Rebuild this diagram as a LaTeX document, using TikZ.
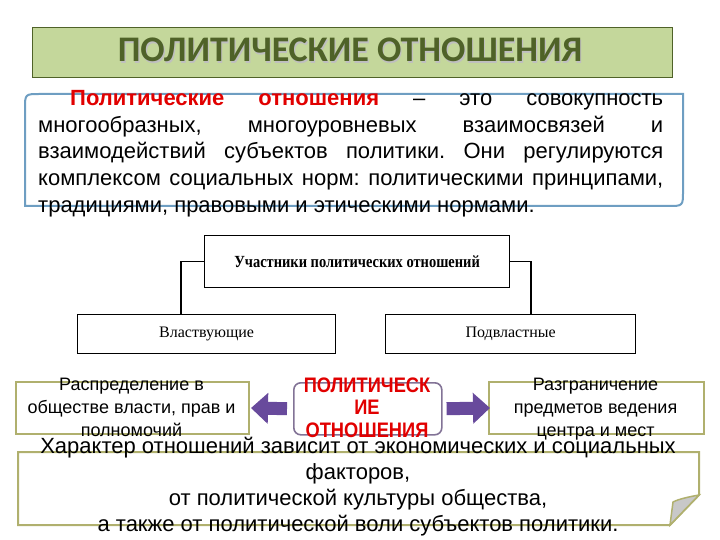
\documentclass[tikz,border=0pt]{standalone}
\usepackage{fontspec}
\setmainfont{Liberation Sans}
\newfontfamily\titlefont{Carlito}
\newfontfamily\serifz{Liberation Serif}
\newfontfamily\narrowb[FakeStretch=0.87]{Liberation Sans}
\usetikzlibrary{arrows.meta}
\frenchspacing
\definecolor{titlefill}{RGB}{196,215,155}
\definecolor{titledark}{RGB}{79,98,40}
\definecolor{defblue}{RGB}{110,158,194}
\definecolor{olivebox}{RGB}{176,176,110}
\definecolor{arrowpurple}{RGB}{104,74,156}
\definecolor{midborder}{RGB}{130,115,150}
\definecolor{redtext}{RGB}{225,0,0}
\definecolor{foldgray}{RGB}{200,200,200}
\tikzset{
  pbox/.style={draw=black, line width=1.2pt, inner sep=0pt, anchor=north west},
  obox/.style={draw=olivebox, line width=2pt, inner sep=0pt, anchor=north west},
  midbox/.style={draw=midborder, line width=1.6pt, rounded corners=7pt, inner sep=0pt, anchor=north west},
  defline/.style={anchor=base west, inner sep=0pt, font=\fontsize{22}{26}\selectfont},
  botline/.style={anchor=base, inner sep=0pt, font=\fontsize{22}{26}\selectfont},
  smallline/.style={anchor=base, inner sep=0pt, font=\fontsize{18}{21}\selectfont},
  midline/.style={anchor=base, inner sep=0pt, text=redtext, font=\narrowb\bfseries\fontsize{21}{24}\selectfont},
  bigarrow/.style={arrowpurple, line width=13pt, -{Triangle[length=17pt,width=30pt]}},
}
\begin{document}
\begin{tikzpicture}[x=1pt,y=-1pt]
\useasboundingbox (0,0) rectangle (720,540);
% title
\node[draw=titledark, fill=titlefill, line width=1.2pt, minimum width=640pt, minimum height=50pt, inner sep=0pt, anchor=north west] (title) at (32,27) {};
\node[anchor=base, inner sep=0pt, text=black!25, font=\titlefont\bfseries\fontsize{36}{40}\selectfont] (titleshadow) at (351.2,63.2) {ПОЛИТИЧЕСКИЕ ОТНОШЕНИЯ};
\node[anchor=base, inner sep=0pt, text=titledark, font=\titlefont\bfseries\fontsize{36}{40}\selectfont] (titletext) at (350,62) {ПОЛИТИЧЕСКИЕ ОТНОШЕНИЯ};
% definition box
\draw[defblue, line width=2pt] (25,206) -- (25,109) .. controls (25,94) .. (40,94) -- (683,94) -- (683,191) .. controls (683,206) .. (668,206) -- cycle;
\node[defline] (d1) at (70,106) {\makebox[593pt][s]{\textcolor{redtext}{\bfseries Политические} \textcolor{redtext}{\bfseries отношения} – это совокупность}};
\node[defline] (d2) at (38,133) {\makebox[625pt][s]{многообразных, многоуровневых взаимосвязей и}};
\node[defline] (d3) at (38,159) {\makebox[625pt][s]{взаимодействий субъектов политики. Они регулируются}};
\node[defline] (d4) at (38,186) {\makebox[625pt][s]{комплексом социальных норм: политическими принципами,}};
\node[defline] (d5) at (38,212) {традициями, правовыми и этическими нормами.};
% participants
\node[pbox, minimum width=305pt, minimum height=52pt] (uch) at (204,235) {};
\node[inner sep=0pt, font=\serifz\bfseries\fontsize{17}{19}\selectfont] (uchtext) at (uch.center) {\scalebox{0.85}[1]{Участники политических отношений}};
\node[pbox, minimum width=258pt, minimum height=39pt] (vl) at (77,314) {};
\node[inner sep=0pt, font=\serifz\fontsize{16}{18}\selectfont] (vltext) at (vl.center) {Властвующие};
\node[pbox, minimum width=250pt, minimum height=39pt] (pd) at (385,314) {};
\node[inner sep=0pt, font=\serifz\fontsize{16}{18}\selectfont] (pdtext) at (pd.center) {Подвластные};
\coordinate (lc) at (181,0);
\coordinate (rc) at (531,0);
\draw[line width=1.2pt] (uch.west) -| (vl.north -| lc);
\draw[line width=1.2pt] (uch.east) -| (pd.north -| rc);
% lower row
\node[obox, minimum width=233pt, minimum height=52pt] (raspr) at (15,381) {};
\node[smallline] (r1) at (131.5,390) {Распределение в};
\node[smallline] (r2) at (131.5,413) {обществе власти, прав и};
\node[smallline] (r3) at (131.5,436) {полномочий};
\node[midbox, minimum width=148pt, minimum height=52pt] (mid) at (293,382) {};
\node[midline] (m1) at (367,392) {ПОЛИТИЧЕСК};
\node[midline] (m2) at (367,414) {ИЕ};
\node[midline] (m3) at (367,437) {ОТНОШЕНИЯ};
\node[obox, minimum width=215pt, minimum height=52pt] (razgr) at (488,381) {};
\node[smallline] (z1) at (595.5,390) {Разграничение};
\node[smallline] (z2) at (595.5,413) {предметов ведения};
\node[smallline] (z3) at (595.5,436) {центра и мест};
\draw[bigarrow, shorten <=6pt, shorten >=1pt] (mid.west) -- (raspr.east);
\draw[bigarrow, shorten <=4pt, shorten >=-2pt] (mid.east) -- (razgr.west);
% bottom note
\draw[olivebox, line width=2pt, fill=white] (18,452) -- (699,452) -- (699,495) -- (670,525) -- (18,525) -- cycle;
\filldraw[fill=foldgray, draw=olivebox, line width=1.5pt] (699,495) .. controls (688,497) and (679,499) .. (673,502) -- (670,525) -- cycle;
\node[botline] (b1) at (358,453) {Характер отношений зависит от экономических и социальных};
\node[botline] (b2) at (358,479) {факторов,};
\node[botline] (b3) at (358,505) {от политической культуры общества,};
\node[botline] (b4) at (358,531) {а также от политической воли субъектов политики.};
\end{tikzpicture}
\end{document}
